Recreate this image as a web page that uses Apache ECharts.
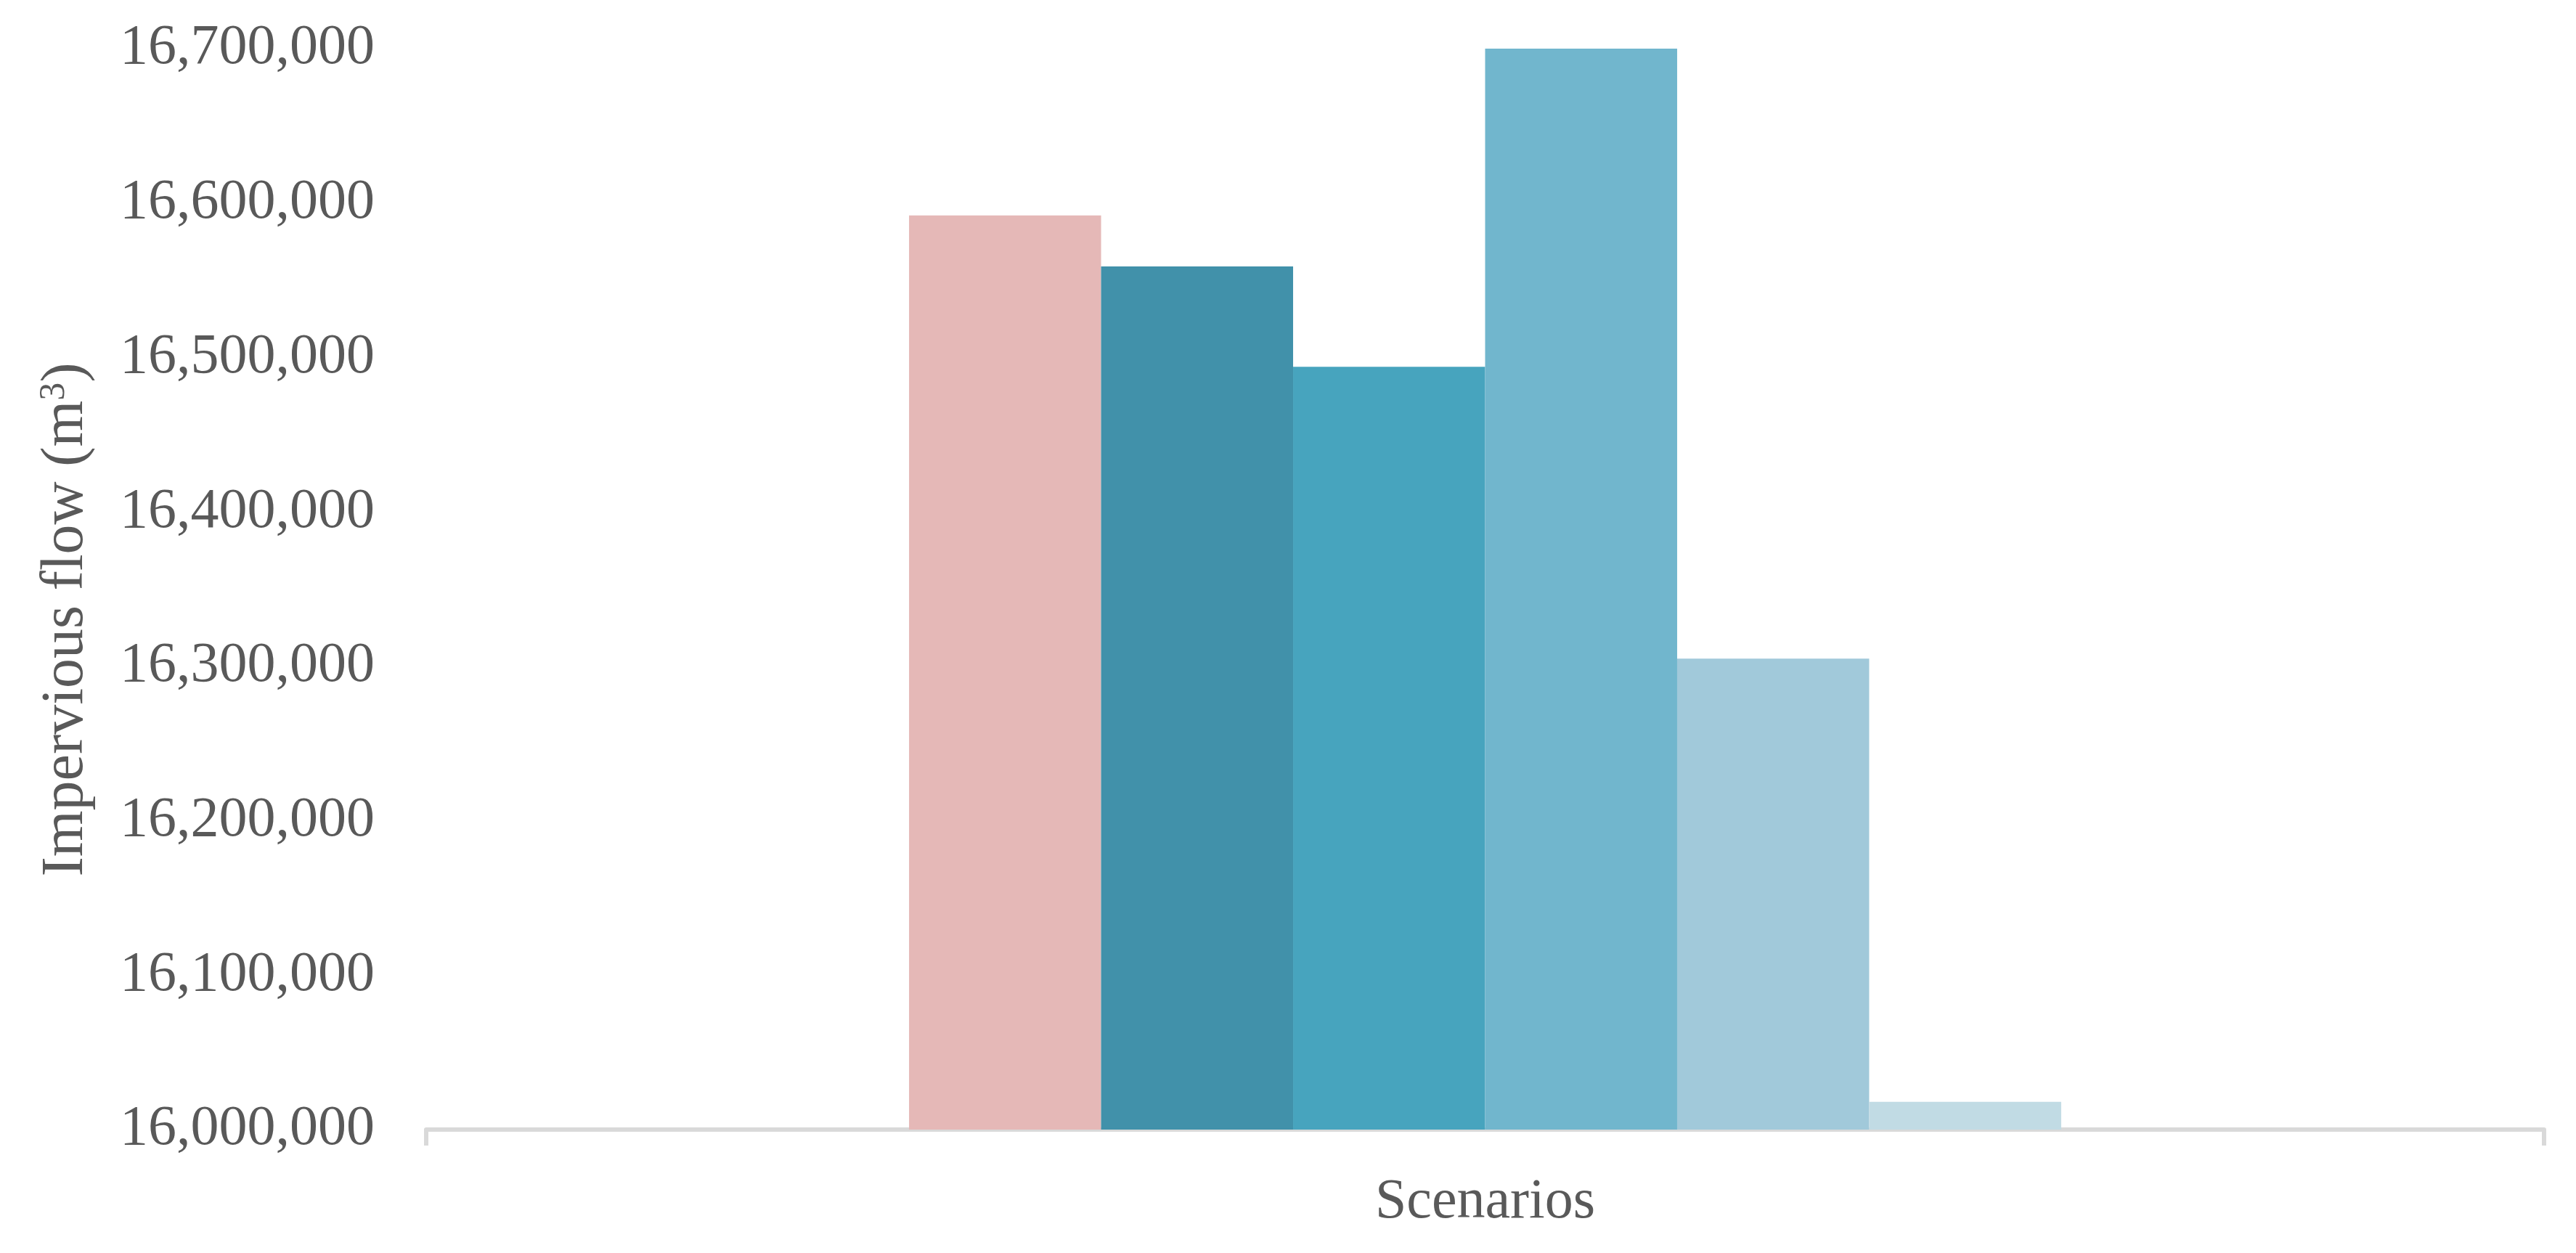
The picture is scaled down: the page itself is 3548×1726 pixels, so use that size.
<!DOCTYPE html>
<html>
<head>
<meta charset="utf-8">
<title>Impervious flow by scenario</title>
<script src="https://cdn.jsdelivr.net/npm/echarts@6/dist/echarts.min.js"></script>
<style>
  html, body { margin: 0; padding: 0; background: #fff; }
  #chart { width: 3548px; height: 1726px; }
</style>
</head>
<body>
<div id="chart"></div>
<script>
// data
const categories = ['Scenarios'];
const seriesNames = ['Scenario 1', 'Scenario 2', 'Scenario 3', 'Scenario 4', 'Scenario 5', 'Scenario 6'];
const seriesValues = [16592000, 16559000, 16494000, 16700000, 16305000, 16018000];
const seriesColors = ['#e5b8b7', '#4191aa', '#47a4be', '#71b6cd', '#a1c9da', '#c1dbe4'];
const yTicks = { min: 16000000, max: 16700000, step: 100000 };

const textColor = '#595959';
const fontFamily = '"Liberation Serif", "DejaVu Serif", serif';

const chart = echarts.init(document.getElementById('chart'));

const series = seriesNames.map((name, i) => ({
  name: name,
  type: 'bar',
  data: [seriesValues[i]],
  barGap: '0%',
  barCategoryGap: '45.6%',
  itemStyle: { color: seriesColors[i] },
  emphasis: { disabled: true }
}));

chart.setOption({
  animation: false,
  backgroundColor: '#ffffff',
  grid: { left: 587, right: 44, top: 67, bottom: 170, containLabel: false },
  xAxis: {
    type: 'category',
    data: categories,
    axisLine: { show: true, lineStyle: { color: '#d9d9d9', width: 6 } },
    axisTick: { show: true, length: 22, lineStyle: { color: '#d9d9d9', width: 6 } },
    axisLabel: { color: textColor, fontSize: 78, fontFamily: fontFamily, margin: 62 }
  },
  yAxis: {
    type: 'value',
    min: yTicks.min,
    max: yTicks.max,
    interval: yTicks.step,
    splitLine: { show: false },
    axisLine: { show: false },
    axisTick: { show: false },
    axisLabel: {
      color: textColor,
      fontSize: 78,
      fontFamily: fontFamily,
      margin: 71,
      formatter: v => v.toLocaleString('en-US')
    },
    name: 'Impervious flow (m{sup|3})',
    nameLocation: 'middle',
    nameGap: 455,
    nameTextStyle: {
      color: textColor,
      fontSize: 82,
      fontFamily: fontFamily,
      padding: [0, 84, 0, 0],
      rich: {
        sup: { color: textColor, fontSize: 50, fontFamily: fontFamily, verticalAlign: 'top', lineHeight: 82 }
      }
    }
  },
  series: series
});
</script>
</body>
</html>
